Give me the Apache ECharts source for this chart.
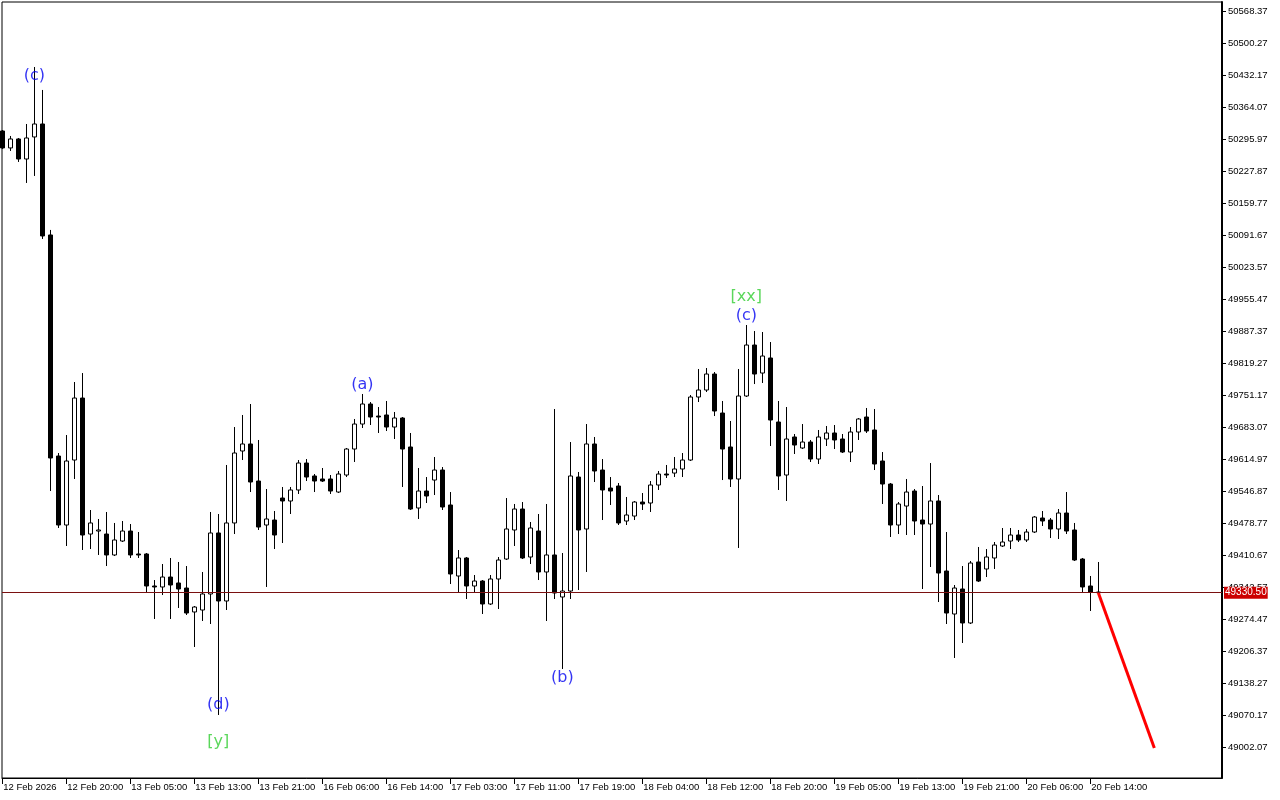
<!DOCTYPE html>
<html>
<head>
<meta charset="utf-8">
<title>H1 chart</title>
<script src="https://cdn.jsdelivr.net/npm/echarts/dist/echarts.min.js"></script>
<style>
  html, body { margin: 0; padding: 0; background: #fff; }
  #chart { width: 1280px; height: 800px; }
</style>
</head>
<body>
<div id="chart"></div>
<script>
// hourly candles, index 0 = 12 Feb 2026 12:00
const opens = [
  50313.0, 50276.9, 50296.0, 50253.4, 50300.3, 50327.9, 50091.7, 49621.3, 49474.5, 49612.8,
  49744.7, 49455.3, 49461.7, 49455.3, 49410.7, 49440.4, 49461.7, 49412.8, 49412.8, 49344.7,
  49342.6, 49363.8, 49351.1, 49340.4, 49289.4, 49293.6, 49327.7, 49457.5, 49312.8, 49478.8,
  49632.0, 49646.9, 49568.1, 49474.5, 49485.1, 49531.9, 49525.6, 49549.0, 49606.4, 49578.8,
  49572.4, 49572.4, 49544.7, 49580.9, 49636.2, 49689.4, 49732.0, 49706.4, 49708.6, 49683.0,
  49702.2, 49640.5, 49510.7, 49546.8, 49570.2, 49591.5, 49517.1, 49366.0, 49404.3, 49344.7,
  49355.3, 49306.4, 49359.6, 49402.1, 49463.9, 49508.5, 49406.4, 49461.7, 49374.5, 49410.7,
  49321.3, 49334.0, 49576.6, 49466.0, 49646.9, 49591.5, 49553.2, 49557.5, 49483.0, 49493.6,
  49523.4, 49521.3, 49559.6, 49583.0, 49585.1, 49593.7, 49612.8, 49746.9, 49761.8, 49795.8,
  49712.8, 49640.5, 49572.4, 49749.0, 49857.5, 49797.9, 49829.9, 49693.7, 49580.9, 49661.8,
  49638.4, 49651.1, 49614.9, 49657.5, 49670.3, 49657.5, 49629.8, 49672.4, 49704.3, 49676.7,
  49610.7, 49561.7, 49474.5, 49514.9, 49546.8, 49485.1, 49476.6, 49525.6, 49376.6, 49285.1,
  49338.3, 49266.0, 49395.8, 49380.9, 49404.3, 49429.8, 49440.4, 49453.2, 49442.6, 49459.6,
  49489.4, 49485.1, 49466.0, 49500.0, 49463.9, 49402.1, 49344.7, 49331.9
];
const closes = [
  50276.9, 50296.0, 50253.4, 50298.1, 50327.9, 50089.6, 49617.1, 49474.5, 49610.7, 49744.7,
  49453.2, 49478.8, 49463.9, 49410.7, 49442.6, 49461.7, 49410.7, 49410.7, 49344.7, 49342.6,
  49363.8, 49346.8, 49338.3, 49287.2, 49300.0, 49327.7, 49457.5, 49312.8, 49478.8, 49627.7,
  49646.9, 49566.0, 49470.2, 49487.3, 49453.2, 49525.6, 49549.0, 49606.4, 49576.6, 49568.1,
  49568.1, 49546.8, 49583.0, 49636.2, 49689.4, 49732.0, 49704.3, 49704.3, 49683.0, 49702.2,
  49636.2, 49508.5, 49546.8, 49536.2, 49591.5, 49512.8, 49370.2, 49404.3, 49344.7, 49355.3,
  49306.4, 49359.6, 49400.0, 49466.0, 49508.5, 49404.3, 49468.1, 49374.5, 49410.7, 49329.8,
  49334.0, 49578.8, 49463.9, 49646.9, 49589.4, 49549.0, 49546.8, 49478.8, 49495.8, 49523.4,
  49519.2, 49559.6, 49583.0, 49580.9, 49593.7, 49612.8, 49746.9, 49761.8, 49795.8, 49717.1,
  49636.2, 49572.4, 49749.0, 49857.5, 49795.8, 49834.1, 49697.9, 49578.8, 49657.5, 49644.7,
  49651.1, 49614.9, 49661.8, 49670.3, 49655.4, 49629.8, 49672.4, 49700.1, 49674.5, 49604.3,
  49561.7, 49474.5, 49519.2, 49544.7, 49483.0, 49476.6, 49525.6, 49372.3, 49287.2, 49340.4,
  49266.0, 49393.6, 49355.3, 49406.4, 49431.9, 49438.3, 49453.2, 49442.6, 49459.6, 49491.5,
  49483.0, 49466.0, 49500.0, 49461.7, 49400.0, 49342.6, 49331.9, 49330.5
];
const lows = [
  50274.8, 50270.5, 50247.1, 50202.4, 50217.3, 50083.2, 49546.8, 49468.1, 49429.8, 49572.4,
  49421.3, 49423.4, 49410.7, 49387.2, 49408.5, 49438.3, 49404.3, 49404.3, 49329.8, 49274.5,
  49325.5, 49274.5, 49297.9, 49283.0, 49214.9, 49270.2, 49263.8, 49070.2, 49293.6, 49455.3,
  49612.8, 49544.7, 49463.9, 49342.6, 49423.4, 49436.2, 49497.9, 49540.5, 49568.1, 49544.7,
  49566.0, 49540.5, 49542.6, 49576.6, 49608.6, 49680.9, 49687.3, 49670.3, 49674.5, 49657.5,
  49555.4, 49506.4, 49487.3, 49521.3, 49538.3, 49506.4, 49348.9, 49329.8, 49317.0, 49331.9,
  49285.1, 49304.3, 49295.7, 49400.0, 49429.8, 49402.1, 49391.5, 49357.4, 49270.2, 49317.0,
  49168.1, 49317.0, 49336.2, 49374.5, 49566.0, 49485.1, 49517.1, 49474.5, 49474.5, 49485.1,
  49506.4, 49502.2, 49549.0, 49574.5, 49576.6, 49576.6, 49610.7, 49736.2, 49757.5, 49706.4,
  49570.2, 49555.4, 49425.6, 49746.9, 49774.5, 49776.7, 49642.6, 49549.0, 49525.6, 49625.6,
  49636.2, 49608.6, 49604.3, 49642.6, 49636.2, 49627.7, 49608.6, 49655.4, 49670.3, 49591.5,
  49519.2, 49449.0, 49455.3, 49453.2, 49453.2, 49338.3, 49385.1, 49310.6, 49263.8, 49191.5,
  49223.4, 49263.8, 49353.2, 49363.8, 49380.9, 49427.7, 49423.4, 49438.3, 49438.3, 49457.5,
  49472.4, 49446.8, 49444.7, 49455.3, 49397.9, 49331.9, 49291.5, 49329.8
];
const highs = [
  50315.1, 50302.4, 50298.1, 50327.9, 50449.2, 50400.3, 50102.4, 49627.7, 49666.0, 49778.8,
  49797.9, 49506.4, 49487.3, 49502.2, 49478.8, 49483.0, 49476.6, 49459.6, 49414.9, 49357.4,
  49391.5, 49404.3, 49395.8, 49387.2, 49302.1, 49374.5, 49502.2, 49497.9, 49602.2, 49683.0,
  49708.6, 49732.0, 49655.4, 49551.1, 49504.3, 49555.4, 49555.4, 49612.8, 49614.9, 49583.0,
  49595.8, 49580.9, 49589.4, 49638.4, 49700.1, 49753.3, 49736.2, 49725.6, 49738.4, 49715.0,
  49704.3, 49670.3, 49595.8, 49576.6, 49619.2, 49597.9, 49544.7, 49421.3, 49406.4, 49368.1,
  49357.4, 49368.1, 49406.4, 49531.9, 49519.2, 49523.4, 49480.9, 49497.9, 49519.2, 49721.3,
  49414.9, 49651.1, 49587.3, 49689.4, 49661.8, 49614.9, 49576.6, 49563.9, 49534.1, 49525.6,
  49542.6, 49568.1, 49589.4, 49602.2, 49619.2, 49627.7, 49751.1, 49806.5, 49808.6, 49800.1,
  49738.4, 49695.8, 49806.5, 49900.1, 49887.3, 49885.2, 49863.9, 49738.4, 49725.6, 49668.1,
  49689.4, 49655.4, 49676.7, 49685.2, 49687.3, 49668.1, 49683.0, 49702.2, 49723.5, 49721.3,
  49629.8, 49563.9, 49523.4, 49572.4, 49551.1, 49557.5, 49606.4, 49538.3, 49459.6, 49346.8,
  49387.2, 49397.9, 49427.7, 49423.4, 49438.3, 49468.1, 49468.1, 49463.9, 49466.0, 49493.6,
  49504.3, 49489.4, 49508.5, 49544.7, 49478.8, 49404.3, 49366.0, 49395.8
];

// time axis labels (every 8th bar)
const xTickIdx = [0, 8, 16, 24, 32, 40, 48, 56, 64, 72, 80, 88, 96, 104, 112, 120, 128, 136];
const xTickLabels = [
  "12 Feb 2026", "12 Feb 20:00", "13 Feb 05:00", "13 Feb 13:00", "13 Feb 21:00", "16 Feb 06:00",
  "16 Feb 14:00", "17 Feb 03:00", "17 Feb 11:00", "17 Feb 19:00", "18 Feb 04:00", "18 Feb 12:00",
  "18 Feb 20:00", "19 Feb 05:00", "19 Feb 13:00", "19 Feb 21:00", "20 Feb 06:00", "20 Feb 14:00"
];
// price scale labels
const yTicks = [
  49002.07, 49070.17, 49138.27, 49206.37, 49274.47, 49342.57, 49410.67, 49478.77,
  49546.87, 49614.97, 49683.07, 49751.17, 49819.27, 49887.37, 49955.47, 50023.57,
  50091.67, 50159.77, 50227.87, 50295.97, 50364.07, 50432.17, 50500.27, 50568.37
];

const lastPrice = 49330.50;

// wave marks: text, bar index, price, degree
const waveLabels = [
  ["(c)", 4, 50430.1, "minor"],
  ["(d)", 27, 49091.5, "minor"],
  ["[y]", 27, 49012.7, "major"],
  ["(a)", 45, 49772.4, "minor"],
  ["(b)", 70, 49148.9, "minor"],
  ["[xx]", 93, 49959.7, "major"],
  ["(c)", 93, 49919.2, "minor"]
];

// projected move
const forecastIdx = [137, 144];
const forecastPrice = [49330.5, 49000.0];

var candleData = opens.map(function (o, i) {
  return [i, o, closes[i], lows[i], highs[i]];
});

var labelColors = { minor: "#0000f0", major: "#32cd32" };
var waveData = waveLabels.map(function (w) {
  return {
    value: [w[1], w[2]],
    label: { formatter: w[0], color: labelColors[w[3]] }
  };
});

var forecastData = forecastIdx.map(function (x, i) {
  return [x, forecastPrice[i]];
});

var myChart = echarts.init(document.getElementById("chart"));
myChart.setOption({
  animation: false,
  backgroundColor: "#fff",
  grid: {
    left: 2,
    top: 2,
    right: 58,
    bottom: 22,
    show: true,
    borderColor: "#000",
    borderWidth: 1
  },
  xAxis: {
    type: "value",
    min: -0.0375,
    max: 152.46,
    splitLine: { show: false },
    axisLine: { show: true, onZero: false, lineStyle: { color: "#000", width: 1 } },
    axisTick: {
      show: true,
      customValues: xTickIdx,
      length: 6,
      lineStyle: { color: "#000" }
    },
    axisLabel: {
      customValues: xTickIdx,
      align: "left",
      margin: 4,
      padding: [0, 0, 0, 1],
      fontSize: 9.5,
      fontFamily: "Liberation Sans",
      color: "#000",
      formatter: function (v) {
        var k = xTickIdx.indexOf(Math.round(v));
        return k >= 0 ? xTickLabels[k] : "";
      }
    }
  },
  yAxis: {
    type: "value",
    position: "right",
    min: 48936.1,
    max: 50587.5,
    scale: true,
    splitLine: { show: false },
    axisLine: { show: true, onZero: false, lineStyle: { color: "#000", width: 2 } },
    axisTick: {
      show: true,
      customValues: yTicks,
      length: 4,
      lineStyle: { color: "#000" }
    },
    axisLabel: {
      customValues: yTicks,
      margin: 6,
      fontSize: 9.5,
      fontFamily: "Liberation Sans",
      color: "#000",
      formatter: function (v) {
        return v.toFixed(2);
      }
    }
  },
  series: [
    {
      type: "candlestick",
      data: candleData,
      encode: { x: 0, y: [1, 2, 3, 4] },
      barWidth: 4,
      clip: true,
      itemStyle: {
        color: "#fff",
        color0: "#000",
        borderColor: "#000",
        borderColor0: "#000",
        borderColorDoji: "#000",
        borderWidth: 1
      },
      markLine: {
        silent: true,
        symbol: "none",
        lineStyle: { color: "#7a1010", width: 1, type: "solid" },
        label: {
          show: true,
          position: "end",
          distance: 2,
          formatter: lastPrice.toFixed(2),
          color: "#fff",
          backgroundColor: "#cc0000",
          padding: [1, 1, 1, 1],
          fontSize: 10,
          fontFamily: "Liberation Sans"
        },
        data: [{ yAxis: lastPrice }]
      }
    },
    {
      type: "line",
      data: forecastData,
      symbol: "none",
      lineStyle: { color: "#ff0000", width: 3 },
      z: 4
    },
    {
      type: "scatter",
      data: waveData,
      symbolSize: 0,
      z: 5,
      label: {
        show: true,
        position: "inside",
        fontSize: 16,
        fontFamily: "DejaVu Sans"
      }
    }
  ]
});

window.addEventListener("resize", () => {
  myChart.resize();
});
</script>
</body>
</html>
